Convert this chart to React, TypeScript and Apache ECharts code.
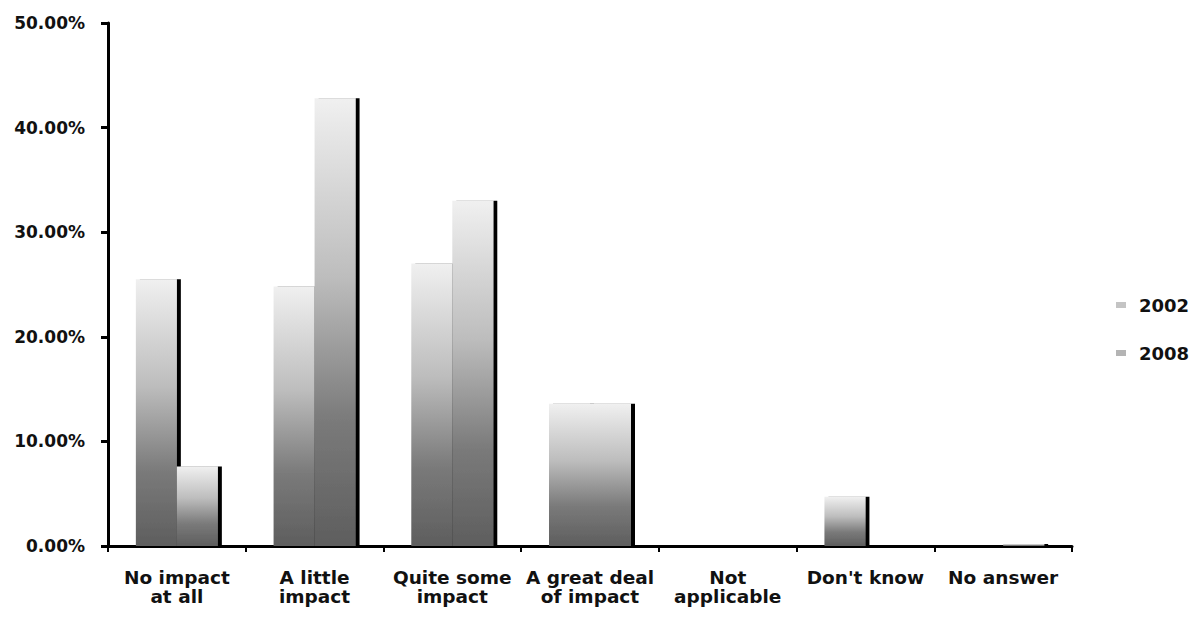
import React, { useEffect, useRef } from "react";
import * as echarts from "echarts";

// Survey answer categories along the x axis
const categories = [
  "No impact\nat all",
  "A little\nimpact",
  "Quite some\nimpact",
  "A great deal\nof impact",
  "Not\napplicable",
  "Don't know",
  "No answer",
];

// Share of respondents (%) per survey year
const values2002 = [25.5, 24.8, 27.0, 13.6, 0, 4.7, 0];
const values2008 = [7.6, 42.8, 33.0, 13.6, 0, 0, 0.2];

const seriesNames = ["2002", "2008"];

const FONT = "'DejaVu Sans', Verdana, sans-serif";

// Light-top, dark-bottom fill used by both bar series
const barGradient = () =>
  new echarts.graphic.LinearGradient(0, 0, 0, 1, [
    { offset: 0, color: "#f0f0f0" },
    { offset: 0.4, color: "#bdbdbd" },
    { offset: 0.72, color: "#7a7a7a" },
    { offset: 1, color: "#5e5e5e" },
  ]);

export default function App() {
  const ref = useRef<HTMLDivElement>(null);

  useEffect(() => {
    if (!ref.current) return;
    const chart = echarts.init(ref.current, undefined, { renderer: "svg" });

    const barStyle = {
      color: barGradient(),
      shadowColor: "#000",
      shadowBlur: 0,
      shadowOffsetX: 4,
      shadowOffsetY: 0,
    };

    chart.setOption({
      animation: false,
      backgroundColor: "#ffffff",
      grid: { left: 108, right: 129, top: 23, bottom: 77, containLabel: false },
      legend: {
        orient: "vertical",
        left: 1111,
        top: 291,
        itemGap: 30,
        itemWidth: 10,
        itemHeight: 6,
        icon: "rect",
        data: [
          { name: seriesNames[0], itemStyle: { color: "#c4c4c4", shadowColor: "transparent", shadowOffsetX: 0 } },
          { name: seriesNames[1], itemStyle: { color: "#b4b4b4", shadowColor: "transparent", shadowOffsetX: 0 } },
        ],
        textStyle: {
          fontFamily: FONT,
          fontWeight: "bold",
          fontSize: 18,
          color: "#111",
          padding: [0, 0, 0, 8],
        },
      },
      xAxis: {
        type: "category",
        data: categories,
        boundaryGap: true,
        axisLine: { lineStyle: { color: "#000", width: 3 } },
        axisTick: { show: true, alignWithLabel: false, length: 6, lineStyle: { color: "#000", width: 2 } },
        axisLabel: {
          interval: 0,
          margin: 22,
          fontFamily: FONT,
          fontWeight: "bold",
          fontSize: 18.5,
          lineHeight: 19,
          color: "#111",
        },
        splitLine: { show: false },
      },
      yAxis: {
        type: "value",
        min: 0,
        max: 50,
        interval: 10,
        axisLine: { show: true, lineStyle: { color: "#000", width: 3 } },
        axisTick: { show: true, length: 7, lineStyle: { color: "#000", width: 3 } },
        axisLabel: {
          margin: 23,
          fontFamily: FONT,
          fontWeight: "bold",
          fontSize: 17,
          color: "#111",
          formatter: (v: number) => v.toFixed(2) + "%",
        },
        splitLine: { show: false },
      },
      series: [
        {
          name: seriesNames[0],
          type: "bar",
          data: values2002,
          barWidth: 41,
          barGap: "0%",
          itemStyle: barStyle,
        },
        {
          name: seriesNames[1],
          type: "bar",
          data: values2008,
          barWidth: 41,
          barGap: "0%",
          itemStyle: { ...barStyle, color: barGradient() },
        },
      ],
    });

    return () => chart.dispose();
  }, []);

  return (
    <div
      ref={ref}
      style={{ position: "fixed", left: 0, top: 0, width: 1201, height: 623, background: "#fff" }}
    />
  );
}
